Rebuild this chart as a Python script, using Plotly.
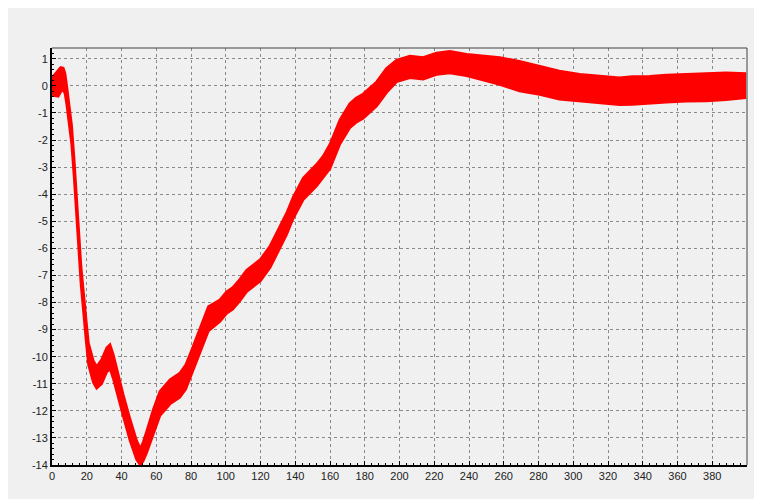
import plotly.graph_objects as go

# ---- data ----
x_vals = [0, 1.7, 3.6, 5, 6.5, 7.5, 8.5, 9.4, 10.3, 11.3, 12.7, 13.8, 15, 15.7, 16.7, 18,
          19.6, 21, 22.5, 23.8, 25.7, 28.6, 31.5, 33.4, 35.3, 38.1, 41, 44.9, 48.7, 50.8,
          52.5, 54.5, 58.3, 62.1, 67.9, 73.6, 77, 80.4, 85, 90, 96.6, 100.5, 104, 108, 112,
          117.7, 120, 125.6, 130.4, 135, 138.8, 144.6, 152.2, 156, 160, 165.7, 171.4, 175,
          179, 186.8, 192.5, 198.3, 206, 213.6, 221.3, 229, 238.6, 248, 257.7, 269, 280.7,
          292, 303.7, 315, 326.7, 334, 344, 353.6, 365, 376.5, 388, 399.5]
y_mid = [0.0, 0.03, 0.11, 0.23, 0.26, 0.09, -0.35, -0.8, -1.25, -1.8, -3.0, -4.0, -5.0, -6.0,
         -7.0, -8.0, -9.0, -9.9, -10.3, -10.55, -10.77, -10.55, -10.12, -10.0, -10.37, -11.05,
         -11.8, -12.7, -13.45, -13.7, -13.5, -13.15, -12.4, -11.73, -11.3, -11.05, -10.75,
         -10.2, -9.4, -8.6, -8.3, -8.0, -7.85, -7.55, -7.2, -6.9, -6.8, -6.3, -5.7, -5.1, -4.5,
         -3.8, -3.3, -3.0, -2.6, -1.7, -1.1, -0.9, -0.75, -0.3, 0.2, 0.55, 0.7, 0.65, 0.82,
         0.88, 0.77, 0.67, 0.55, 0.36, 0.2, 0.03, -0.07, -0.14, -0.2, -0.17, -0.14, -0.1,
         -0.07, -0.04, -0.01, 0.01]
y_half = [0.3, 0.4, 0.5, 0.45, 0.4, 0.38, 0.35, 0.35, 0.35, 0.35, 0.35, 0.35, 0.35, 0.35,
          0.35, 0.35, 0.4, 0.4, 0.4, 0.4, 0.4, 0.45, 0.45, 0.45, 0.45, 0.4, 0.4, 0.4, 0.35,
          0.3, 0.35, 0.4, 0.45, 0.45, 0.45, 0.45, 0.45, 0.45, 0.45, 0.45, 0.4, 0.4, 0.4, 0.4,
          0.4, 0.4, 0.4, 0.4, 0.4, 0.4, 0.4, 0.4, 0.4, 0.4, 0.45, 0.45, 0.45, 0.45, 0.45,
          0.45, 0.45, 0.4, 0.4, 0.4, 0.4, 0.4, 0.4, 0.45, 0.5, 0.55, 0.52, 0.52, 0.5, 0.5,
          0.5, 0.52, 0.5, 0.5, 0.5, 0.52, 0.5, 0.45]

x_ticks = list(range(0, 400, 20))
x_tick_text = [str(v) for v in x_ticks]
y_ticks = list(range(-14, 2))
y_tick_text = [str(v) for v in y_ticks]  # ASCII hyphen minus as in reference

y_lo = [m - h for m, h in zip(y_mid, y_half)]
y_hi = [m + h for m, h in zip(y_mid, y_half)]

RED = "#ff0000"
fig = go.Figure()
fig.add_trace(go.Scatter(x=x_vals, y=y_lo, mode="lines",
                         line=dict(color=RED, width=2.5),
                         showlegend=False, hoverinfo="skip", cliponaxis=True))
fig.add_trace(go.Scatter(x=x_vals, y=y_hi, mode="lines", fill="tonexty",
                         fillcolor=RED, line=dict(color=RED, width=2.5),
                         showlegend=False, hoverinfo="skip", cliponaxis=True))

font = dict(family="Liberation Sans, Arial, sans-serif", size=11, color="#222222")
grid = dict(showgrid=True, gridcolor="#8a8a8a", gridwidth=1, griddash="3px,3px",
            zeroline=False, showline=True, linecolor="black", linewidth=2,
            ticks="inside", ticklen=4, tickcolor="black", tickfont=font)

fig.update_layout(
    width=754, height=491,
    margin=dict(l=44, r=15, t=40, b=34),
    paper_bgcolor="#f0f0f0", plot_bgcolor="#f0f0f0",
    xaxis=dict(range=[0, 400], tickmode="array", tickvals=x_ticks, ticktext=x_tick_text,
               minor=dict(tick0=0, dtick=4, ticks="inside", ticklen=2, tickcolor="black",
                          showgrid=False), **grid),
    yaxis=dict(range=[-14, 1.4], tickmode="array", tickvals=y_ticks, ticktext=y_tick_text,
               minor=dict(tick0=0, dtick=0.2, ticks="inside", ticklen=2, tickcolor="black",
                          showgrid=False), **grid),
    shapes=[
        dict(type="line", xref="paper", yref="paper", x0=0, x1=1, y0=1, y1=1,
             line=dict(color="#404040", width=1)),
        dict(type="line", xref="paper", yref="paper", x0=1, x1=1, y0=0, y1=1,
             line=dict(color="#404040", width=1)),
    ],
)

fig.write_html("out.html")
